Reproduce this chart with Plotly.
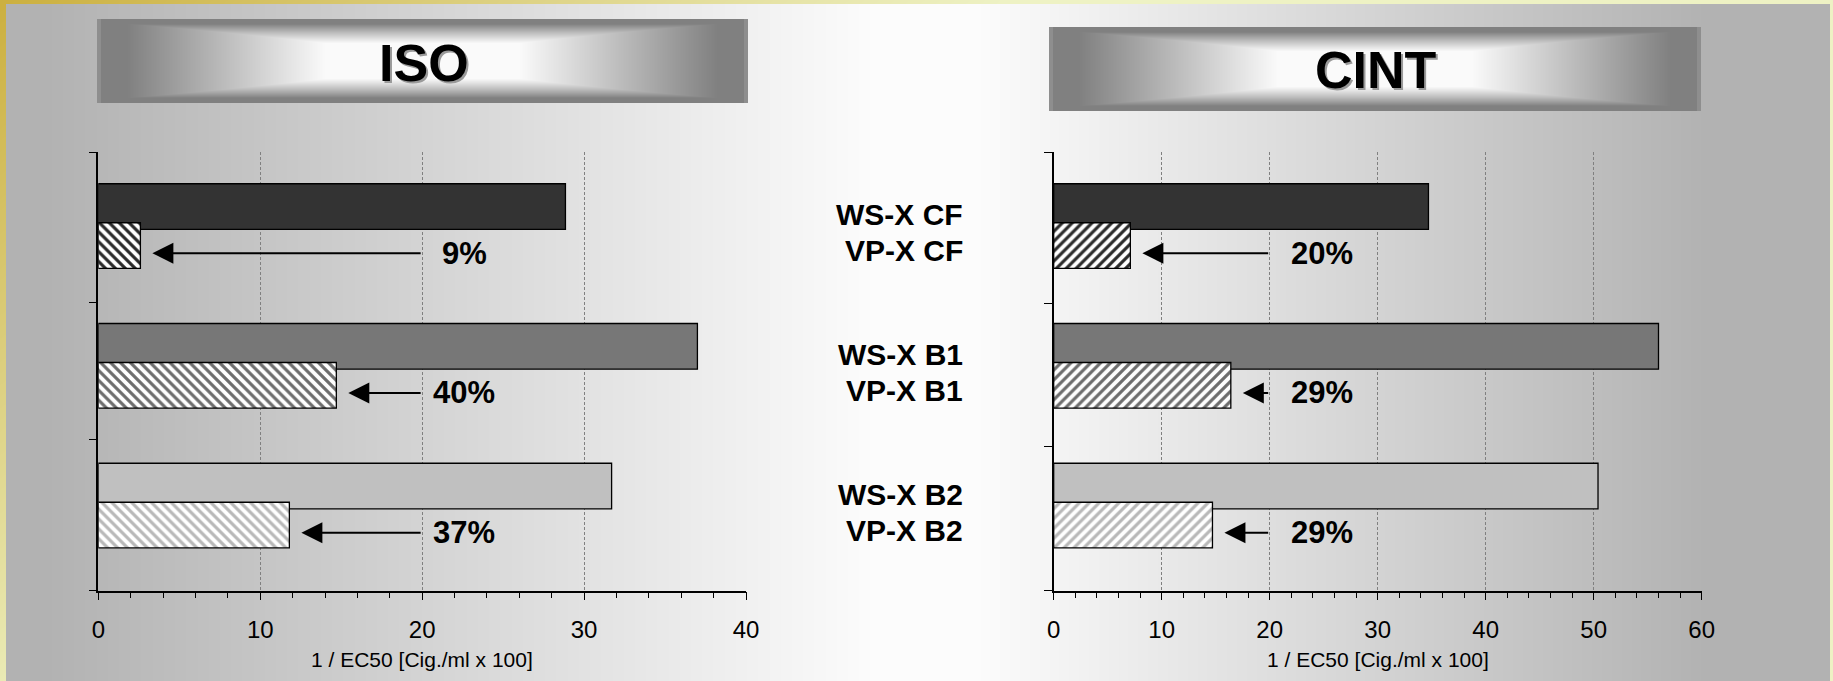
import base64
import struct
import zlib

import numpy as np
import plotly.graph_objects as go

# ---------------- data ----------------
categories = ["CF", "B1", "B2"]
ws_labels = ["WS-X CF", "WS-X B1", "WS-X B2"]
vp_labels = ["VP-X CF", "VP-X B1", "VP-X B2"]

iso_ws = [28.85, 37.0, 31.7]
iso_vp = [2.6, 14.7, 11.8]
iso_pct = ["9%", "40%", "37%"]

cint_ws = [34.7, 56.0, 50.4]
cint_vp = [7.1, 16.4, 14.7]
cint_pct = ["20%", "29%", "29%"]

panel_titles = ["ISO", "CINT"]
axis_title = "1 / EC50 [Cig./ml x 100]"
arrow_tail = 20

# ---------------- style ----------------
W, H = 1833, 681
FONT = "Liberation Sans, Arial, Helvetica, sans-serif"
WS_COLORS = ["#333333", "#777777", "#c0c0c0"]
VP_FG = ["#2a2a2a", "#6e6e6e", "#b8b8b8"]

pos = list(range(len(categories)))
Y_RANGE = [2.608, -0.529]
WS_OFF, VP_OFF, BAR_W = -0.304, -0.025, 0.327
ARROW_DY = 0.193


# ---------------- background picture (decoration only) ----------------
def png_uri(img):
    h, w, _ = img.shape
    raw = b"".join(b"\x00" + img[r].tobytes() for r in range(h))

    def chunk(t, d):
        c = struct.pack(">I", len(d)) + t + d
        return c + struct.pack(">I", zlib.crc32(t + d) & 0xFFFFFFFF)

    png = (b"\x89PNG\r\n\x1a\n"
           + chunk(b"IHDR", struct.pack(">IIBBBBB", w, h, 8, 2, 0, 0, 0))
           + chunk(b"IDAT", zlib.compress(raw, 9))
           + chunk(b"IEND", b""))
    return "data:image/png;base64," + base64.b64encode(png).decode()


xs = np.arange(W, dtype=float)
g = np.full(W, 178.0)
m = (xs >= 40) & (xs < 870)
g[m] = 178 + 74 * (xs[m] - 40) / 830
g[(xs >= 870) & (xs < 980)] = 252
m = (xs >= 980) & (xs < 1710)
g[m] = 252 - 74 * (xs[m] - 980) / 730
img = np.repeat(np.repeat(g[None, :, None], H, axis=0), 3, axis=2)

# frame (gold -> pale yellow)
gold = np.array([204, 176, 64], float)
pale = np.array([238, 242, 196], float)
YY, XX = np.mgrid[0:H, 0:W]
t = np.clip((XX + 1.3 * YY) / 1000.0, 0, 1)[..., None]
frame = gold * (1 - t) + pale * t
fm = np.zeros((H, W), bool)
fm[0:4, :] = True
fm[:, 0:6] = True
fm[:, W - 3:] = True
img[fm] = frame[fm]


def banner(a, x0, x1, y0, y1):
    w, h = x1 - x0, y1 - y0
    u = np.abs(np.arange(w) + 0.5 - w / 2) / (w / 2)
    v = np.abs(np.arange(h) + 0.5 - h / 2) / (h / 2)
    U, V = np.meshgrid(u, v)
    s = np.maximum(U, 1.1 * V ** 1.5)
    b = np.clip(250 - 200 * (s - 0.3), 128, 250)
    a[y0:y1, x0:x1, :] = b[..., None]
    a[y0:y1, x0:x0 + 4, :] = 142
    a[y0:y1, x1 - 4:x1, :] = 142


banner(img, 97, 748, 19, 103)
banner(img, 1049, 1701, 27, 111)
bg_uri = png_uri(np.clip(img, 0, 255).astype(np.uint8))

# ---------------- figure ----------------
fig = go.Figure()

panels = [
    dict(ws=iso_ws, vp=iso_vp, pct=iso_pct, xa="x", ya="y", shape="\\",
         xmax=40, xdom=[98.3 / W, 746.0 / W], yt=[-0.528, 0.547, 1.523, 2.607],
         title=panel_titles[0], tx=423.5, ty=62.5, pshift=42),
    dict(ws=cint_ws, vp=cint_vp, pct=cint_pct, xa="x2", ya="y2", shape="/",
         xmax=60, xdom=[1053.7 / W, 1701.7 / W], yt=[-0.528, 0.552, 1.578, 2.607],
         title=panel_titles[1], tx=1375.6, ty=69.7, pshift=52),
]

ydom = [(H - 590.7) / H, (H - 152.3) / H]
annotations = []

for k, p in enumerate(panels):
    fig.add_trace(go.Bar(
        x=p["ws"], y=pos, orientation="h", width=BAR_W, offset=WS_OFF,
        marker=dict(color=WS_COLORS, line=dict(color="black", width=1.3)),
        xaxis=p["xa"], yaxis=p["ya"], showlegend=False, hoverinfo="x"))
    fig.add_trace(go.Bar(
        x=p["vp"], y=pos, orientation="h", width=BAR_W, offset=VP_OFF,
        marker=dict(color="white", line=dict(color="black", width=1.3),
                    pattern=dict(shape=p["shape"], fgcolor=VP_FG, bgcolor="white",
                                 fillmode="replace", size=7, solidity=0.45)),
        xaxis=p["xa"], yaxis=p["ya"], showlegend=False, hoverinfo="x"))

    suffix = "" if k == 0 else "2"
    fig.update_layout(**{
        "xaxis" + suffix: dict(
            domain=p["xdom"], range=[0, p["xmax"]], anchor=p["ya"], automargin=False,
            dtick=10, tick0=0, showgrid=True, gridcolor="#808080", gridwidth=1,
            griddash="3px,2px", showline=True, linecolor="black", linewidth=1.5,
            ticks="outside", ticklen=8, tickwidth=1.3, tickcolor="black",
            minor=dict(dtick=2, ticks="outside", ticklen=6, tickwidth=1,
                       tickcolor="black", showgrid=False),
            tickfont=dict(family=FONT, size=24, color="black"),
            ticklabelstandoff=9, zeroline=False, fixedrange=True),
        "yaxis" + suffix: dict(
            domain=ydom, range=Y_RANGE, anchor=p["xa"], tickvals=p["yt"], automargin=False,
            ticks="outside", ticklen=8, tickwidth=1.3, tickcolor="black",
            showticklabels=False, showgrid=False, zeroline=False,
            showline=True, linecolor="black", linewidth=1.5, fixedrange=True),
    })

    # banner title with shadow
    for dx, dy, col in [(2, -2, "#9a9a9a"), (0, 0, "black")]:
        annotations.append(dict(
            text=p["title"], x=p["tx"] / W, y=1 - p["ty"] / H, xref="paper", yref="paper",
            xanchor="center", yanchor="middle", showarrow=False, xshift=dx, yshift=dy,
            font=dict(family=FONT, size=52, color=col, weight="bold")))

    # axis title
    annotations.append(dict(
        text=axis_title, x=0.5, xref=p["xa"] + " domain", y=(H - 659) / H, yref="paper",
        xanchor="center", yanchor="middle", showarrow=False,
        font=dict(family=FONT, size=21, color="black")))

    # arrows and percentage labels
    for i, (v, lab) in enumerate(zip(p["vp"], p["pct"])):
        yy = pos[i] + ARROW_DY
        annotations.append(dict(
            x=v, y=yy, xref=p["xa"], yref=p["ya"], ax=arrow_tail, ay=yy,
            axref=p["xa"], ayref=p["ya"], text="", showarrow=True, arrowhead=2,
            arrowsize=2.1, arrowwidth=2, arrowcolor="black", standoff=12))
        annotations.append(dict(
            text=lab, x=arrow_tail, y=yy, xref=p["xa"], yref=p["ya"], xshift=p["pshift"],
            xanchor="center", yanchor="middle", showarrow=False,
            font=dict(family=FONT, size=31, color="black", weight="bold")))

# category labels in the middle
for i in pos:
    for lab, dy in [(ws_labels[i], -0.082), (vp_labels[i], 0.175)]:
        annotations.append(dict(
            text=lab, x=965 / W, xref="paper", y=pos[i] + dy, yref="y",
            xanchor="right", yanchor="middle", showarrow=False,
            font=dict(family=FONT, size=30, color="black", weight="bold")))

fig.update_layout(
    width=W, height=H, margin=dict(l=0, r=0, t=0, b=0, pad=0, autoexpand=False),
    autosize=False,
    barmode="overlay", paper_bgcolor="#c8c8c8", plot_bgcolor="rgba(0,0,0,0)",
    images=[dict(source=bg_uri, xref="paper", yref="paper", x=0, y=1, sizex=1, sizey=1,
                 xanchor="left", yanchor="top", sizing="stretch", layer="below")],
    annotations=annotations, showlegend=False,
)

fig.write_html(
    "out.html",
    config={"displayModeBar": False, "responsive": False},
    post_script="document.body.style.margin='0';document.body.style.overflow='hidden';",
)
